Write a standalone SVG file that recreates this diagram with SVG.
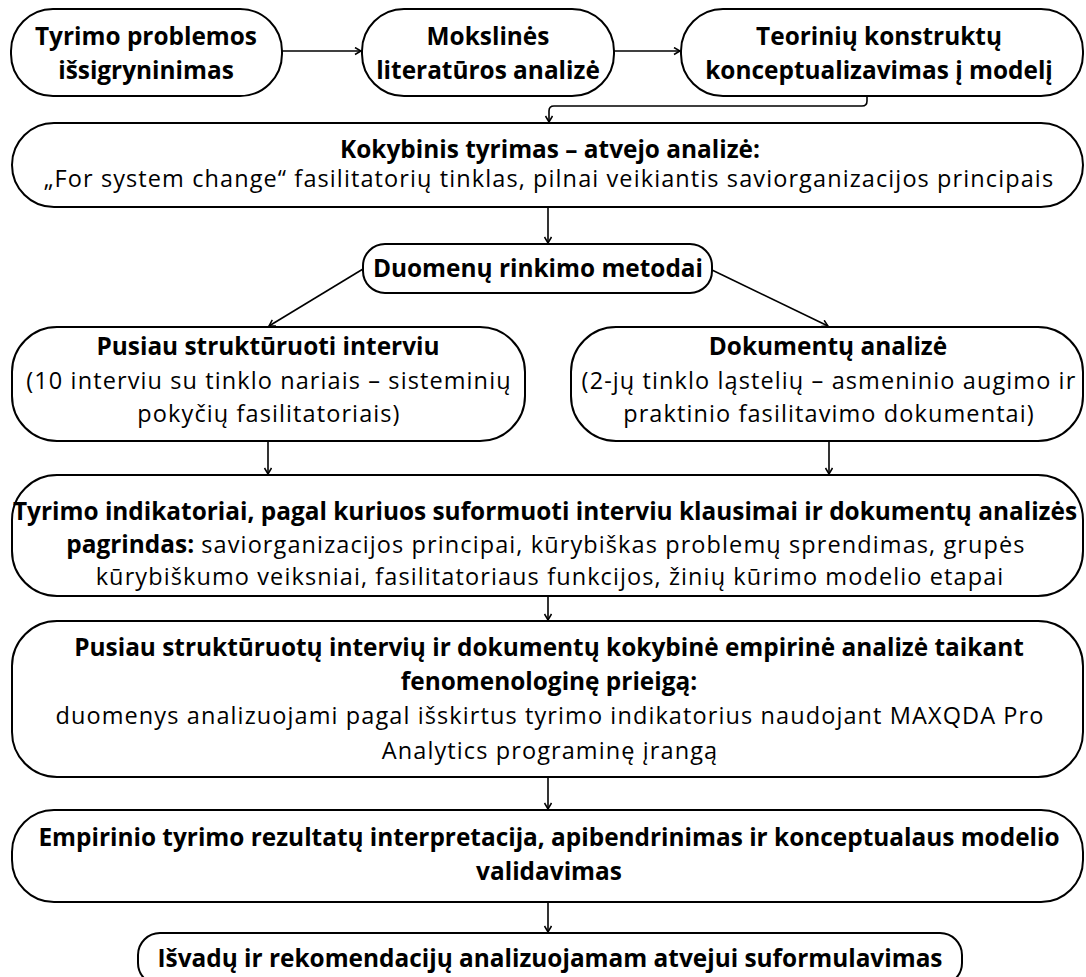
<svg xmlns="http://www.w3.org/2000/svg" width="1086" height="977" viewBox="0 0 1086 977">
  <style>
    .box { fill: #ffffff; stroke: #000000; stroke-width: 2; }
    .edge { fill: none; stroke: #000000; stroke-width: 1.6; marker-end: url(#arrow); }
    text { font-family: "Open Sans", "Noto Sans", "DejaVu Sans", sans-serif; fill: #000000; text-anchor: middle; }
    .b { font-weight: 700; font-size: 24.4px; letter-spacing: 0; }
    .r { font-weight: 400; font-size: 23.5px; letter-spacing: 1.1px; }
  </style>
  <defs>
    <marker id="arrow" markerWidth="10" markerHeight="10" refX="7" refY="4" orient="auto" markerUnits="userSpaceOnUse">
      <path d="M1,0.5 L7,4 L1,7.5" fill="none" stroke="#000000" stroke-width="1.5"/>
    </marker>
  </defs>
  <rect width="1086" height="977" fill="#ffffff"/>

  <!-- connectors -->
  <g id="connectors">
    <path class="edge" d="M282,51 H361"/>
    <path class="edge" d="M614,51 H680"/>
    <path class="edge" d="M867,96 V101 Q867,106 862,106 H554 Q549,106 549,111 V122"/>
    <path class="edge" d="M548,207 V243"/>
    <path class="edge" d="M363,269 L269,326"/>
    <path class="edge" d="M712,270 L828,326"/>
    <path class="edge" d="M268,441 V474"/>
    <path class="edge" d="M829,441 V474"/>
    <path class="edge" d="M548,596 V620"/>
    <path class="edge" d="M548,777 V809"/>
    <path class="edge" d="M548,902 V932"/>
  </g>

  <g id="n1">
    <rect class="box" x="11" y="9" width="271" height="87" rx="42" ry="42"/>
    <text class="b" x="146" y="45">Tyrimo problemos</text>
    <text class="b" x="146" y="79">išsigryninimas</text>
  </g>
  <g id="n2">
    <rect class="box" x="362" y="9" width="252" height="87" rx="42" ry="42"/>
    <text class="b" x="488" y="45">Mokslinės</text>
    <text class="b" x="488" y="79">literatūros analizė</text>
  </g>
  <g id="n3">
    <rect class="box" x="681" y="9" width="402" height="87" rx="42" ry="42"/>
    <text class="b" x="879" y="45">Teorinių konstruktų</text>
    <text class="b" x="879" y="79">konceptualizavimas į modelį</text>
  </g>
  <g id="n4">
    <rect class="box" x="12" y="123" width="1071" height="84" rx="42" ry="42"/>
    <text class="b" x="550" y="158">Kokybinis tyrimas – atvejo analizė:</text>
    <text class="r" x="549" y="187">„For system change“ fasilitatorių tinklas, pilnai veikiantis saviorganizacijos principais</text>
  </g>
  <g id="n5">
    <rect class="box" x="363" y="244" width="349" height="49" rx="22" ry="22"/>
    <text class="b" x="538" y="277">Duomenų rinkimo metodai</text>
  </g>
  <g id="n6">
    <rect class="box" x="12" y="327" width="513" height="114" rx="45" ry="45"/>
    <text class="b" x="268" y="355">Pusiau struktūruoti interviu</text>
    <text class="r" x="269" y="389">(10 interviu su tinklo nariais – sisteminių</text>
    <text class="r" x="269" y="422">pokyčių fasilitatoriais)</text>
  </g>
  <g id="n7">
    <rect class="box" x="571" y="327" width="512" height="114" rx="45" ry="45"/>
    <text class="b" x="828" y="355">Dokumentų analizė</text>
    <text class="r" x="829" y="389">(2-jų tinklo ląstelių – asmeninio augimo ir</text>
    <text class="r" x="829" y="422">praktinio fasilitavimo dokumentai)</text>
  </g>
  <g id="n8">
    <rect class="box" x="12" y="475" width="1071" height="121" rx="45" ry="45"/>
    <text class="b" x="545" y="520">Tyrimo indikatoriai, pagal kuriuos suformuoti interviu klausimai ir dokumentų analizės</text>
    <text class="r" x="546" y="553"><tspan class="b">pagrindas:</tspan> saviorganizacijos principai, kūrybiškas problemų sprendimas, grupės</text>
    <text class="r" x="550" y="585">kūrybiškumo veiksniai, fasilitatoriaus funkcijos, žinių kūrimo modelio etapai</text>
  </g>
  <g id="n9">
    <rect class="box" x="12" y="621" width="1071" height="156" rx="45" ry="45"/>
    <text class="b" x="549" y="656">Pusiau struktūruotų intervių ir dokumentų kokybinė empirinė analizė taikant</text>
    <text class="b" x="549" y="690">fenomenologinę prieigą:</text>
    <text class="r" x="550" y="724">duomenys analizuojami pagal išskirtus tyrimo indikatorius naudojant MAXQDA Pro</text>
    <text class="r" x="550" y="759">Analytics programinę įrangą</text>
  </g>
  <g id="n10">
    <rect class="box" x="12" y="810" width="1071" height="92" rx="42" ry="42"/>
    <text class="b" x="549" y="846">Empirinio tyrimo rezultatų interpretacija, apibendrinimas ir konceptualaus modelio</text>
    <text class="b" x="549" y="880">validavimas</text>
  </g>
  <g id="n11">
    <rect class="box" x="138" y="933" width="824" height="52" rx="22" ry="22"/>
    <text class="b" x="550" y="967">Išvadų ir rekomendacijų analizuojamam atvejui suformulavimas</text>
  </g>
</svg>
